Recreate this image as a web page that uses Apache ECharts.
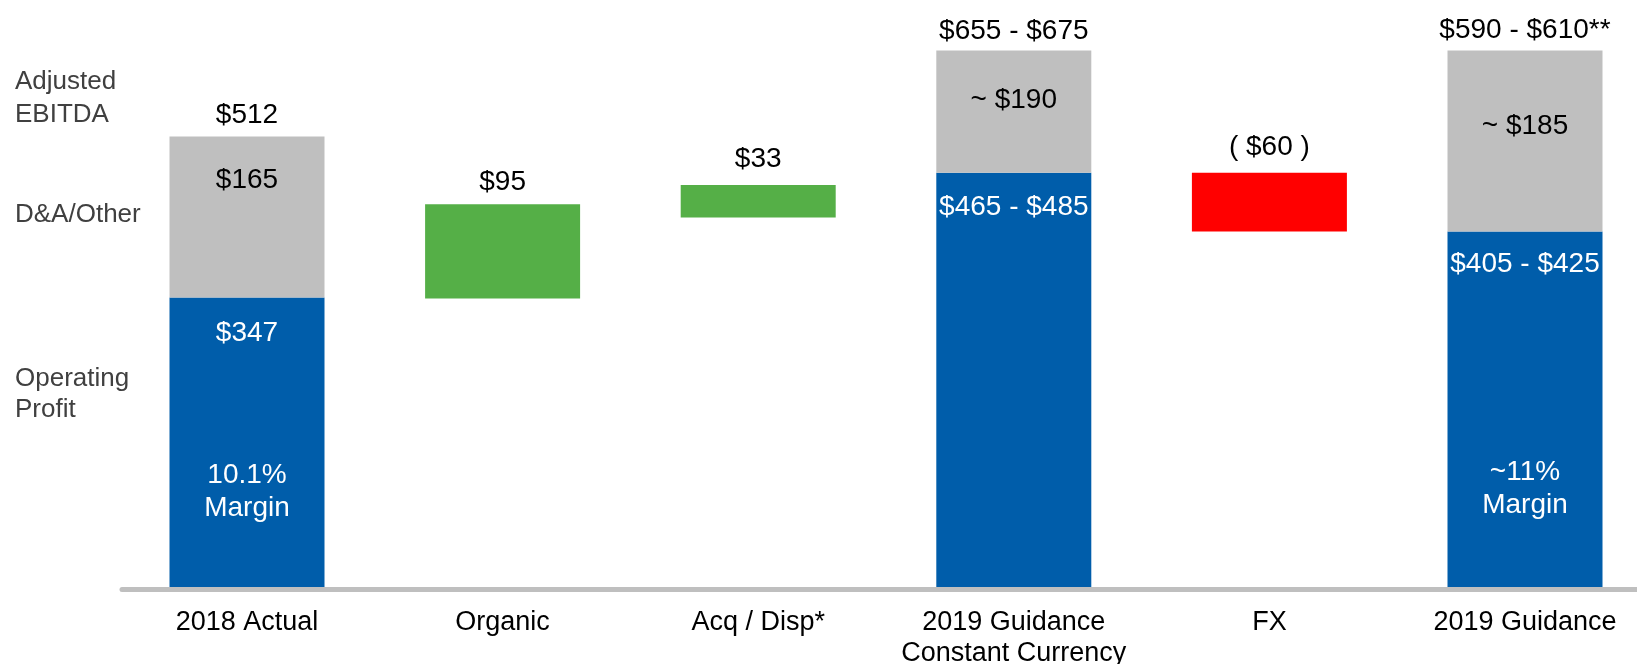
<!DOCTYPE html>
<html>
<head>
<meta charset="utf-8">
<title>Adjusted EBITDA bridge</title>
<script src="https://cdn.jsdelivr.net/npm/echarts@6/dist/echarts.min.js"></script>
<style>
  html, body { margin: 0; padding: 0; background: #fff; }
  #chart { width: 1637px; height: 664px; }
</style>
</head>
<body>
<div id="chart"></div>
<script>
// values (bar heights, in $M scale of the 2018 bar)
const categories = ['2018 Actual', 'Organic', 'Acq / Disp*', '2019 Guidance\nConstant Currency', 'FX', '2019 Guidance']
const bridgeBase = [0, 328, 420, 0, 404, 0]
const operatingProfit = [329, null, null, 471, null, 404]
const daOther = [183, null, null, 139, null, 206]
const increase = [null, 107, 37, null, null, null]
const decrease = [null, null, null, null, 67, null]

// printed labels
const totalLabels = ['$512', '$95', '$33', '$655 - $675', '( $60 )', '$590 - $610**']
const daLabels = ['$165', null, null, '~ $190', null, '~ $185']
const opLabels = ['$347', null, null, '$465 - $485', null, '$405 - $425']
const marginLabels = [['10.1%', 'Margin'], null, null, null, null, ['~11%', 'Margin']]
const sideLabels = ['Adjusted', 'EBITDA', 'D&A/Other', 'Operating', 'Profit']

const FONT = "'Liberation Sans', Arial, sans-serif"
const BLUE = '#005DAA'
const GRAY = '#BFBFBF'

const chart = echarts.init(document.getElementById('chart'))

function barSeries (name, data, color) {
  return {
    name: name,
    type: 'bar',
    stack: 'bridge',
    barWidth: 155,
    data: data.map(v => (v === null ? '-' : v)),
    itemStyle: { color: color },
    silent: true
  }
}

chart.setOption({
  animation: false,
  backgroundColor: '#fff',
  grid: [
    // bars: first and last category centres sit on the grid edges
    { left: 247, width: 1278, top: 24, height: 563, outerBoundsMode: 'none' },
    // long baseline running to the right edge
    { left: 122, right: 0, top: 24, height: 563, outerBoundsMode: 'none' }
  ],
  xAxis: [
    {
      type: 'category',
      gridIndex: 0,
      data: categories,
      boundaryGap: false,
      offset: 2,
      axisLine: { show: false },
      axisTick: { show: false },
      axisLabel: { margin: 18, color: '#000', fontSize: 27, lineHeight: 31, fontFamily: FONT, interval: 0 }
    },
    {
      type: 'category',
      gridIndex: 1,
      data: [''],
      offset: 2,
      axisLine: { onZero: false, lineStyle: { color: GRAY, width: 5 } },
      axisTick: { show: false },
      axisLabel: { show: false }
    }
  ],
  yAxis: [
    { type: 'value', gridIndex: 0, min: 0, max: 640, show: false },
    { type: 'value', gridIndex: 1, min: 0, max: 640, show: false }
  ],
  series: [
    barSeries('base', bridgeBase, 'rgba(0,0,0,0)'),
    barSeries('Operating Profit', operatingProfit, BLUE),
    barSeries('D&A/Other', daOther, GRAY),
    barSeries('Increase', increase, '#55AF47'),
    barSeries('Decrease', decrease, '#FF0000')
  ]
})

// labels placed relative to bar edges, through the chart's own scales
function px (i, v) {
  return chart.convertToPixel({ gridIndex: 0 }, [i, v])
}
function txt (x, y, text, color, size, align) {
  return {
    type: 'text',
    x: x,
    y: y,
    z: 100,
    silent: true,
    style: {
      text: text,
      fill: color,
      fontSize: size,
      fontFamily: FONT,
      align: align || 'center',
      verticalAlign: 'middle'
    }
  }
}

const totalOffset = [-21, -22, -26, -19, -25, -20]
const daOffset = [44, 0, 0, 50, 0, 76]
const opOffset = [36, 0, 0, 35, 0, 33]
const marginOffset = [178, 0, 0, 0, 0, 241]

const graphics = []
categories.forEach((c, i) => {
  const vals = [bridgeBase, operatingProfit, daOther, increase, decrease].map(a => a[i] || 0)
  const top = vals.reduce((s, v) => s + v, 0)
  const opTop = bridgeBase[i] + (operatingProfit[i] || 0)
  const pTop = px(i, top)
  graphics.push(txt(pTop[0], pTop[1] + totalOffset[i], totalLabels[i], '#000', 28))
  if (daLabels[i]) graphics.push(txt(pTop[0], pTop[1] + daOffset[i], daLabels[i], '#000', 28))
  if (opLabels[i]) {
    const pOp = px(i, opTop)
    graphics.push(txt(pOp[0], pOp[1] + opOffset[i], opLabels[i], '#fff', 28))
    if (marginLabels[i]) {
      graphics.push(txt(pOp[0], pOp[1] + marginOffset[i], marginLabels[i][0], '#fff', 28))
      graphics.push(txt(pOp[0], pOp[1] + marginOffset[i] + 33, marginLabels[i][1], '#fff', 28))
    }
  }
})

const sideY = [82, 115, 215, 379, 410]
sideLabels.forEach((t, k) => {
  graphics.push(txt(15, sideY[k], t, '#404040', 26, 'left'))
})

chart.setOption({ graphic: graphics })
</script>
</body>
</html>
